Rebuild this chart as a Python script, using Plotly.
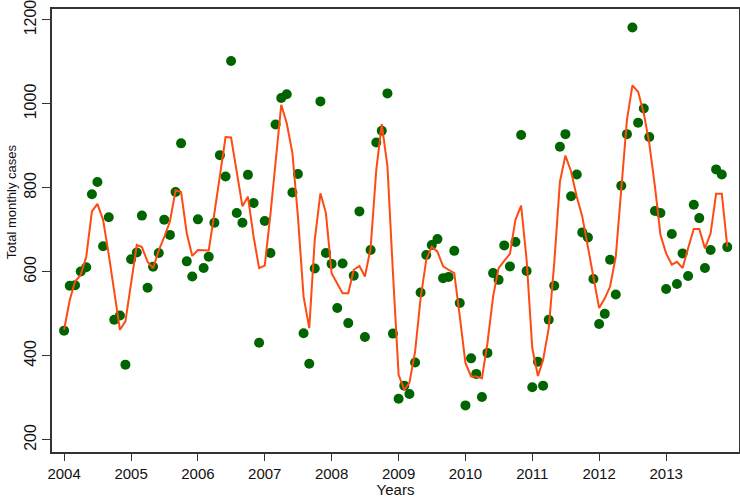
import pandas as pd
import plotly.graph_objects as go

# monthly observed cases, Jan 2004 .. Dec 2013
cases = [
    460, 567, 568, 601, 611, 785, 814, 661, 730, 486, 496, 379,   # 2004
    630, 646, 734, 562, 612, 645, 724, 688, 790, 906, 625, 589,   # 2005
    725, 609, 636, 717, 878, 827, 1102, 740, 717, 831, 764, 431,  # 2006
    721, 645, 951, 1014, 1023, 789, 833, 454, 381, 608, 1006, 645,  # 2007
    619, 514, 620, 478, 591, 744, 445, 652, 908, 936, 1025, 453,  # 2008
    298, 329, 309, 384, 551, 640, 664, 678, 585, 588, 650, 526,   # 2009
    282, 394, 357, 302, 407, 597, 581, 663, 613, 671, 926, 602,   # 2010
    325, 386, 329, 486, 567, 898, 928, 780, 832, 694, 682, 583,   # 2011
    476, 500, 629, 546, 805, 928, 1182, 955, 989, 921, 745, 740,  # 2012
    559, 690, 571, 644, 590, 760, 728, 609, 652, 844, 832, 659,   # 2013
]

# fitted values (line)
fitted = [
    462, 533, 577, 593, 636, 744, 762, 724, 641, 550, 462, 482,
    571, 664, 659, 624, 609, 651, 683, 720, 794, 790, 692, 638,
    652, 651, 651, 740, 835, 921, 920, 835, 756, 779, 684, 609,
    615, 737, 860, 998, 954, 883, 732, 541, 466, 676, 787, 740,
    597, 573, 549, 549, 605, 614, 589, 656, 843, 952, 851, 598,
    355, 319, 336, 410, 537, 629, 660, 648, 613, 605, 597, 494,
    383, 351, 351, 347, 430, 541, 609, 626, 643, 724, 758, 629,
    418, 352, 390, 466, 621, 815, 877, 839, 779, 732, 660, 589,
    514, 537, 565, 636, 787, 962, 1044, 1029, 978, 906, 803, 688,
    644, 617, 624, 609, 656, 702, 702, 656, 692, 786, 786, 660,
]

months = pd.date_range("2004-01-01", periods=len(cases), freq="MS")
years = list(range(2004, 2014))
y_ticks = [200, 400, 600, 800, 1000, 1200]

fig = go.Figure()
fig.add_trace(go.Scatter(x=months, y=cases, mode="markers",
                         marker=dict(color="#006400", size=10), showlegend=False))
fig.add_trace(go.Scatter(x=months, y=fitted, mode="lines",
                         line=dict(color="#FF4A12", width=2), showlegend=False))

fnt = "Liberation Sans, Arial"
fig.update_layout(
    width=740, height=498,
    margin=dict(l=52, r=1, t=9, b=46, autoexpand=False),
    plot_bgcolor="white", paper_bgcolor="white",
    font=dict(family=fnt, size=15, color="#111"),
    xaxis=dict(
        range=["2003-10-27", "2014-02-03"],
        tickvals=[f"{y}-01-01" for y in years], tickformat="%Y",
        ticks="outside", ticklen=7, tickcolor="#333",
        showline=True, linecolor="#333", linewidth=1.5, mirror=True,
        showgrid=False, zeroline=False, automargin=False,
        title=dict(text="Years", standoff=1, font=dict(size=15)),
    ),
    yaxis=dict(
        range=[171, 1226], tickvals=y_ticks, tickangle=-90,
        tickfont=dict(size=16), ticklabeloverflow="allow",
        ticks="outside", ticklen=8, tickcolor="#333",
        showline=True, linecolor="#333", linewidth=1.5, mirror=True,
        showgrid=False, zeroline=False, automargin=False,
    ),
)
fig.add_annotation(text="Total monthly cases", textangle=-90,
                   xref="paper", yref="paper", x=0, y=0.564,
                   xanchor="center", yanchor="middle", xshift=-41,
                   showarrow=False, font=dict(family=fnt, size=13, color="#111"))

# drop the default page margin so the figure sits at the window corner
fig.write_html("out.html", config={"displayModeBar": False},
               post_script="document.body.style.margin='0';")
